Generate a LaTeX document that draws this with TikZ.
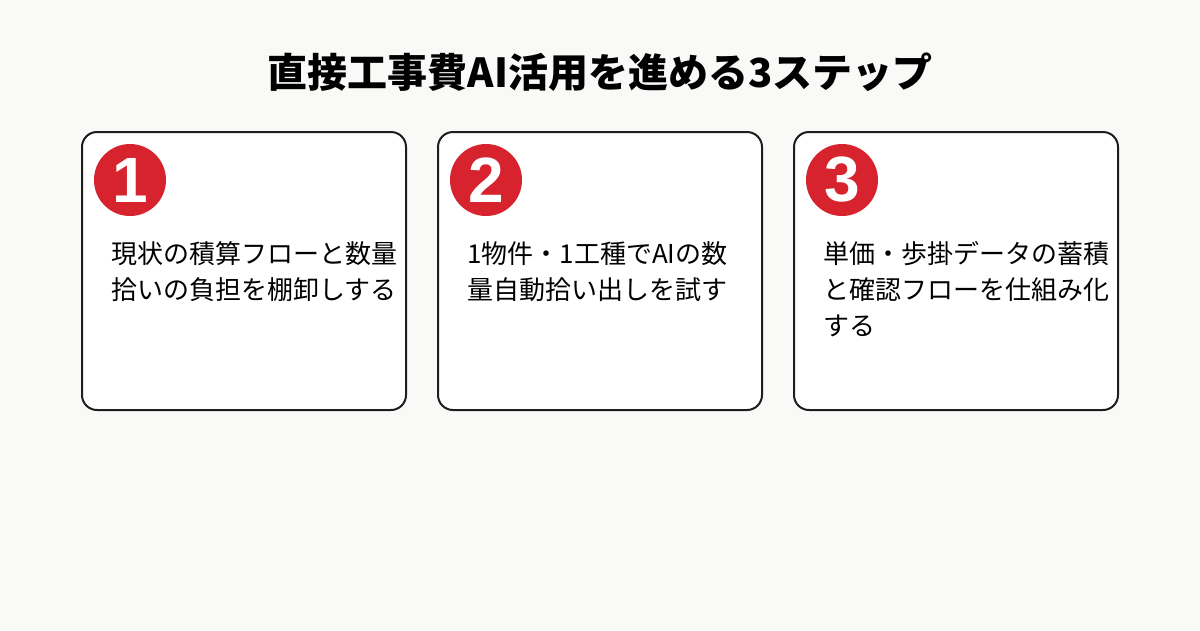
\documentclass[tikz,border=0pt]{standalone}
\usepackage{fontspec}
\newfontfamily\jp{Noto Sans CJK JP}
\newfontfamily\num{Liberation Sans}
\usetikzlibrary{positioning}
\definecolor{bgcol}{HTML}{F9F9F7}
\definecolor{stepred}{HTML}{D7232D}
\definecolor{edge}{HTML}{1E1E1E}

\begin{document}
\begin{tikzpicture}[x=1pt,y=-1pt,
        card/.style={draw=edge,fill=white,line width=2pt,rounded corners=15pt,
                minimum width=324pt,minimum height=278pt,anchor=north west,inner sep=0pt},
        badge/.style={circle,fill=stepred,minimum size=72pt,inner sep=0pt,
                text=white,font=\num\bfseries\fontsize{64}{64}\selectfont},
        body/.style={anchor=base west,align=left,inner sep=0pt,
                font=\jp\fontsize{26}{36}\selectfont}]
        \fill [bgcol] (0,0) rectangle (1200,630);
        \useasboundingbox (0,0) rectangle (1200,630);
        \node [font=\jp\bfseries\fontsize{40}{40}\selectfont] (title) at (600,72) {直接工事費AI活用を進める3ステップ};
        % last baseline of each text block
        \foreach \n/\x/\y/\txt in {1/81/299/{現状の積算フローと数量\\拾いの負担を棚卸しする},
                2/437/299/{1物件・1工種でAIの数\\量自動拾い出しを試す},
                3/793/335/{単価・歩掛データの蓄積\\と確認フローを仕組み化\\する}} {
                \node [card] (card\n) at (\x,131) {};
                \node [badge] (badge\n) at (\x+49,180) {\n};
                \node [body] (text\n) at (\x+30,\y) {\txt};
        }
\end{tikzpicture}
\end{document}
